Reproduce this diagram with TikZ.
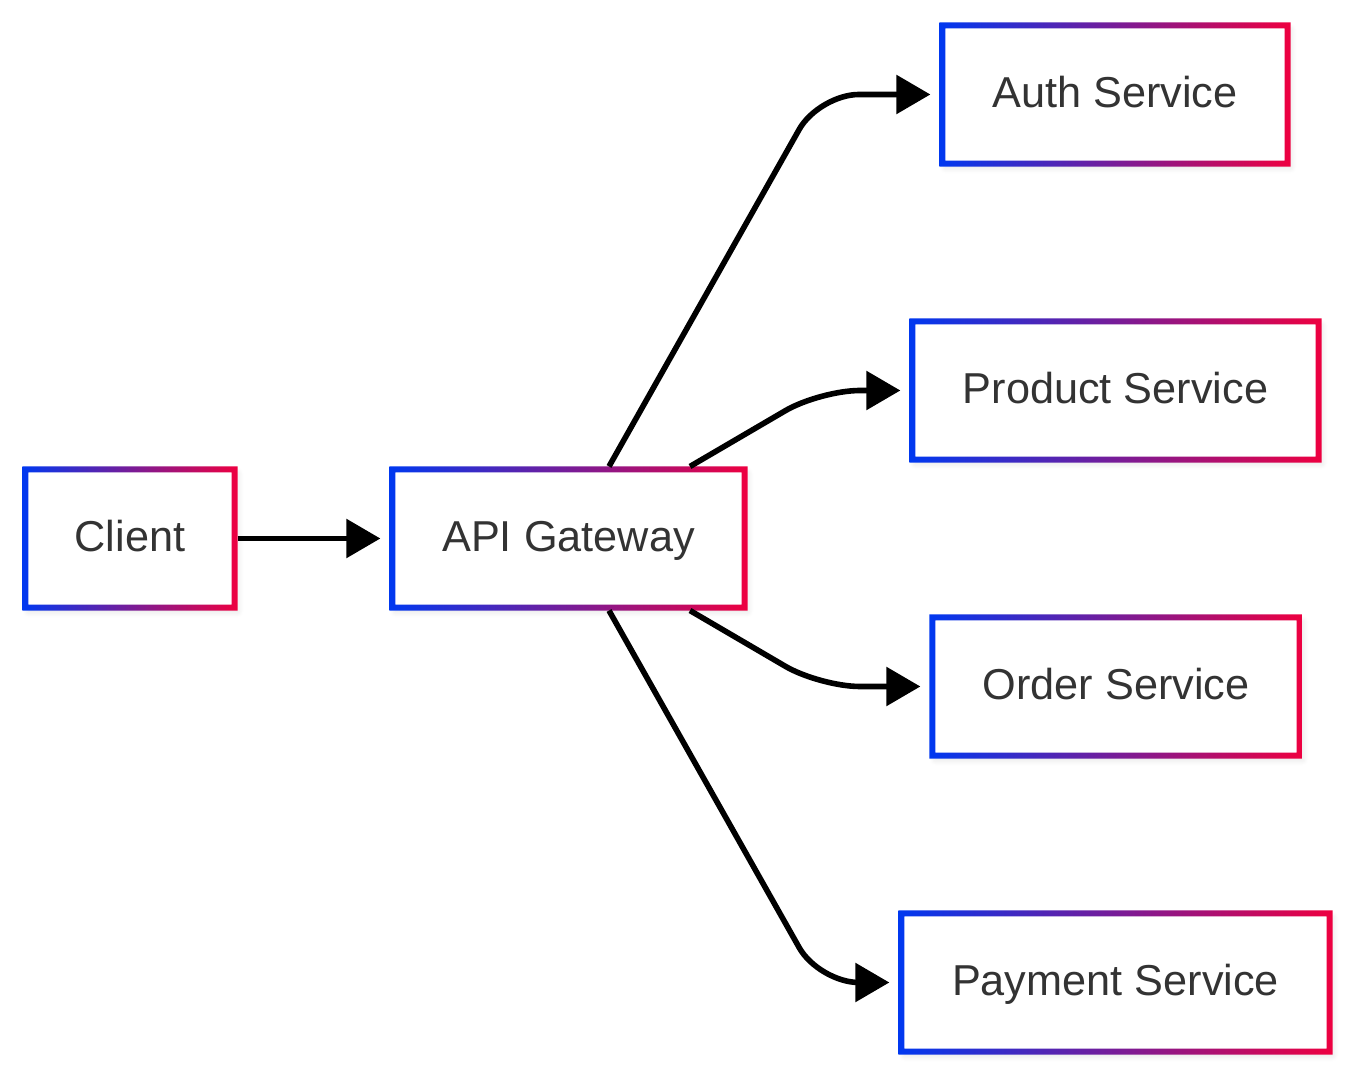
\documentclass[tikz,border=0pt]{standalone}
\usepackage{fontspec}
\setmainfont{Liberation Sans}
\usepackage{xcolor}
\usetikzlibrary{arrows.meta, shadows.blur}

\definecolor{frameblue}{RGB}{0,56,240}
\definecolor{framered}{RGB}{238,0,64}
\definecolor{labelgray}{RGB}{51,51,51}

% gradient border around a box node
\newcommand\gradframe[1]{%
  \shade[left color=frameblue, right color=framered, even odd rule]
    ([shift={(-3,-3)}]#1.north west) rectangle ([shift={(3,3)}]#1.south east)
    ([shift={(3,3)}]#1.north west) rectangle ([shift={(-3,-3)}]#1.south east);}

\tikzset{
  svcbox/.style={rectangle, fill=white, draw=none, inner sep=0pt, outer sep=0pt,
    minimum height=1.38cm, text=labelgray, text height=0.716em, text depth=0pt,
    font=\fontsize{12.3}{14}\selectfont,
    blur shadow={shadow xshift=0.03cm, shadow yshift=-0.04cm, shadow opacity=12, shadow blur steps=8, shadow blur radius=0.06cm}},
  flow/.style={line width=0.056cm, -{Triangle[length=0.34cm, width=0.38cm]},
    rounded corners=0.4cm, shorten >=0.12cm},
}

\begin{document}
\begin{tikzpicture}[x=0.01cm, y=-0.01cm]
    \useasboundingbox (0,0) rectangle (1358,1080);

    % Client and gateway
    \node[svcbox, minimum width=2.09cm] (client) at (130,538.5) {Client};
    \node[svcbox, minimum width=3.52cm] (gw) at (568.5,538.5) {API Gateway};

    % Services
    \node[svcbox, minimum width=3.45cm] (auth) at (1115,94.5) {Auth Service};
    \node[svcbox, minimum width=4.06cm] (product) at (1115.5,390.5) {Product Service};
    \node[svcbox, minimum width=3.67cm] (order) at (1116,686.5) {Order Service};
    \node[svcbox, minimum width=4.28cm] (payment) at (1115.5,982.5) {Payment Service};

    % Borders
    \foreach \n in {client, gw, auth, product, order, payment}
        \gradframe{\n};

    % Arrows
    \draw[flow] ([shift={(3,0)}]client.east) -- (gw.west);
    \draw[flow] ([shift={(40.5,-3)}]gw.north) -- ([shift={(-123.5,0)}]auth.west) -- (auth.west);
    \draw[flow] ([shift={(121.5,-3)}]gw.north) -- ([shift={(-92.5,0)}]product.west) -- (product.west);
    \draw[flow] ([shift={(121.5,3)}]gw.south) -- ([shift={(-112.5,0)}]order.west) -- (order.west);
    \draw[flow] ([shift={(40.5,3)}]gw.south) -- ([shift={(-82.5,0)}]payment.west) -- (payment.west);
\end{tikzpicture}
\end{document}
